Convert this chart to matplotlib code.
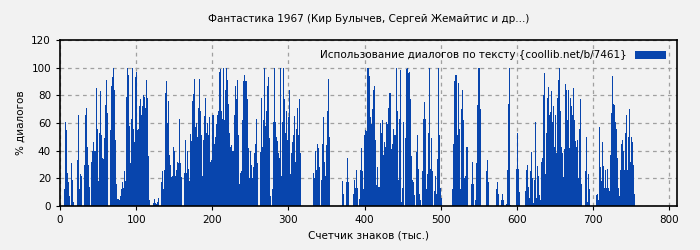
import matplotlib
matplotlib.use("Agg")
import matplotlib.pyplot as plt
import numpy as np

# dialogue share (%) per block of text left to right
part1 = [0, 0, 0, 0, 12, 61, 55, 24, 17, 7, 0, 31, 19, 3, 0, 0, 0, 33, 66, 12,
         23, 22, 0, 0, 30, 66, 71, 43, 30, 14, 0, 32, 40, 46, 40, 40, 85, 56, 18, 53,
         83, 51, 35, 34, 49, 73, 91, 67, 0, 0, 55, 87, 93, 100, 84, 48, 16, 5, 5, 4,
         7, 12, 17, 13, 25, 18, 79, 100, 95, 58, 31, 63, 100, 56, 46, 93, 97, 55, 56, 72,
         77, 66, 72, 80, 79, 71, 91, 78, 36, 4, 0, 0, 0, 2, 5, 2, 1.5, 3, 6, 0,
         0, 17, 25, 12, 26, 82, 90, 60, 76, 37, 30, 21, 22, 43, 40, 22, 26]
part2 = [32, 31, 63, 31, 21, 0, 0, 24, 48, 24, 40, 27, 18, 52, 47, 76, 81, 92, 57, 60,
         50, 71, 92, 69, 51, 22, 48, 65, 78, 53, 60, 51, 64, 32, 33, 66, 66, 45, 50, 59,
         66, 69, 97, 99, 69, 63, 100, 62, 84, 100, 91, 74, 53, 43, 44, 40, 40, 66, 87, 77,
         91, 51, 16, 24, 25, 62, 90, 95, 90, 90, 77, 42, 20, 40, 30, 20, 28, 38, 45, 63,
         31, 0, 0, 39, 78, 43, 62, 100, 58, 69, 87, 93, 49, 7, 0, 12, 61, 100, 61, 50,
         47, 38, 35, 100, 22, 61, 100, 77, 53, 69, 48, 64, 84, 23, 38, 46, 51]
part3 = [65, 32, 56, 71, 51, 77, 38, 0, 0, 0, 0, 0, 0, 0, 0, 0, 0, 0, 0, 24,
         20, 40, 26, 45, 42, 28, 0, 19, 45, 64, 32, 22, 44, 69, 92, 50, 0, 0, 0, 0,
         0, 0, 0, 0, 0, 0, 0, 0, 18, 9, 0, 0, 17, 35, 17, 0, 0, 0, 0, 9,
         19, 13, 26, 13, 0, 5, 26, 42, 25, 12, 51, 55, 54, 100, 100, 94, 64, 59, 70, 84,
         87, 48, 15, 28, 14, 14, 60, 53, 62, 37, 46, 43, 61, 59, 71, 82, 82, 41, 45, 56,
         51, 51, 100, 69, 19, 63, 98, 3, 13, 61, 0, 49, 99, 100, 96, 97, 77]
part4 = [36, 19, 17, 8, 0, 39, 51, 27, 9, 4, 0, 25, 63, 75, 63, 12, 23, 53, 100, 27,
         49, 25, 0, 11, 22, 9, 34, 100, 51, 13, 6, 0, 0, 0, 0, 0, 0, 0, 0, 0,
         0, 12, 45, 90, 95, 95, 51, 89, 56, 12, 70, 84, 62, 20, 22, 43, 43, 0, 0, 0,
         16, 32, 16, 0, 4, 31, 73, 100, 100, 70, 0, 0, 0, 0, 0, 25, 33, 17, 0, 0,
         0, 0, 0, 0, 0, 12, 17, 9, 0, 0, 4, 9, 4, 0, 0, 1.5, 26, 74, 100, 1,
         0, 0, 0, 0, 0, 27, 53, 27, 10, 0, 0, 0, 0, 0, 11, 26, 30]
part5 = [14, 6, 25, 39, 20, 2, 19, 61, 6, 29, 22, 8, 4, 32, 35, 80, 96, 23, 53, 78,
         86, 66, 68, 83, 61, 72, 43, 66, 38, 78, 91, 100, 69, 43, 38, 21, 41, 88, 84, 62,
         84, 42, 78, 72, 66, 85, 62, 47, 43, 48, 20, 56, 77, 16, 0, 0, 0, 25, 50, 3,
         23, 12, 0, 0, 0, 0, 0, 0, 8, 9, 4, 57, 28, 18, 46, 29, 13, 26, 13, 27,
         13, 11, 37, 67, 94, 74, 73, 61, 56, 35, 13, 7, 26, 45, 48, 40, 26, 53, 66, 26,
         50, 70, 32, 50, 46, 30, 9]

block_size = 1.314  # thousand chars per bar
title = "Фантастика 1967 (Кир Булычев, Сергей Жемайтис и др...)"
legend_label = "Использование диалогов по тексту {coollib.net/b/7461}"


def main():
    values = np.array(part1 + part2 + part3 + part4 + part5)
    x = (np.arange(len(values)) + 0.5) * block_size

    plt.rcParams["font.family"] = ["DejaVu Sans"]
    plt.rcParams["font.size"] = 7.5
    bg = "#f2f2f2"
    fig = plt.figure(figsize=(7, 2.5), dpi=100, facecolor=bg)
    ax = fig.add_axes([0.0857, 0.176, 0.881, 0.664], facecolor=bg)

    ax.bar(x, values, width=block_size, color="#0845ad", linewidth=0,
           label=legend_label)

    ax.set_xlim(0, 810)
    ax.set_ylim(0, 120)
    ax.set_xticks(range(0, 801, 100))
    ax.set_yticks(range(0, 121, 20))
    ax.grid(True, color="#a0a0a0", linestyle=(0, (3, 3)), linewidth=0.9)
    ax.set_axisbelow(True)
    for s in ax.spines.values():
        s.set_color("black")
        s.set_linewidth(1.2)
    ax.tick_params(length=3, color="black", labelsize=7.5)

    ax.set_title(title, fontsize=7.5, pad=13)
    ax.set_xlabel("Счетчик знаков (тыс.)", fontsize=7.5)
    ax.set_ylabel("% диалогов", fontsize=7.5)

    ax.legend(loc="upper right", frameon=False, markerfirst=False,
              handlelength=3.0, handleheight=0.75, fontsize=7.5,
              borderaxespad=0.6, handletextpad=0.8)

    fig.savefig("out.png", dpi=100, facecolor=bg)


if __name__ == "__main__":
    main()
